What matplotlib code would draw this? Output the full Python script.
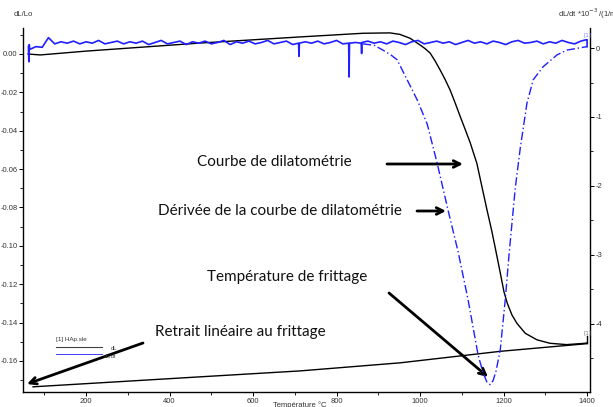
import matplotlib
matplotlib.use('Agg')
import matplotlib.pyplot as plt
from matplotlib.ticker import MultipleLocator, FixedLocator
from matplotlib.lines import Line2D

plt.rcParams['axes.unicode_minus'] = False

# ---------------------------------------------------------------------------
# Data
# ---------------------------------------------------------------------------
# dL/Lo, heating branch (T in degC)
HEAT_T = [61, 90, 200, 473, 713, 863, 928, 952, 976, 1000, 1012, 1024, 1036,
          1048, 1060, 1072, 1084, 1096, 1108, 1120, 1136, 1148, 1160, 1172,
          1180, 1192, 1201, 1209, 1220, 1232, 1252, 1280, 1311, 1351, 1395,
          1400]
HEAT_DL = [0.0, -0.0005, 0.0015, 0.0057, 0.0089, 0.0108, 0.0110, 0.0102,
           0.0082, 0.0047, 0.0028, 0.0005, -0.0036, -0.0083, -0.0133,
           -0.0188, -0.0255, -0.0325, -0.0393, -0.0462, -0.0570, -0.0690,
           -0.0810, -0.0925, -0.1010, -0.1140, -0.1240, -0.1300, -0.1360,
           -0.1404, -0.1456, -0.1490, -0.1508, -0.1515, -0.1508, -0.1506]
# end marker of the heating branch
HEAT_END_T = [1400, 1400]
HEAT_END_DL = [-0.1506, -0.1470]

# dL/Lo, cooling branch
COOL_T = [1400, 1311, 1192, 952, 713, 473, 73]
COOL_DL = [-0.1510, -0.1527, -0.1550, -0.1610, -0.1652, -0.1683, -0.1735]

# dL/dt (*10^-3), flat noisy trace
NOISE_T = [62, 63, 64, 65, 80, 95, 110, 125, 140, 155, 170, 185, 200, 215,
           230, 245, 260, 275, 290, 305, 320, 335, 350, 365, 380, 395, 410,
           425, 440, 455, 470, 485, 500, 515, 530, 545, 560, 575, 590, 605,
           620, 635, 650, 665, 680, 695, 709, 710, 711, 725, 740, 755, 770,
           785, 800, 815, 829, 830, 831, 845, 859, 860, 861, 875, 890, 905,
           920, 935, 950, 965, 980, 995, 1010, 1025, 1040, 1055, 1070, 1085,
           1100, 1115, 1130, 1145, 1160, 1175, 1190, 1205, 1220, 1235, 1250,
           1265, 1280, 1295, 1310, 1325, 1340, 1355, 1370, 1385, 1398, 1400,
           1400]
NOISE_V = [0.02, -0.20, 0.05, -0.02, 0.02, 0.01, 0.15, 0.06, 0.09, 0.07, 0.10,
           0.06, 0.09, 0.07, 0.11, 0.06, 0.08, 0.10, 0.06, 0.09, 0.07, 0.10,
           0.05, 0.08, 0.11, 0.06, 0.08, 0.10, 0.05, 0.09, 0.07, 0.10, 0.06,
           0.08, 0.11, 0.05, 0.09, 0.07, 0.10, 0.06, 0.08, 0.11, 0.06, 0.08,
           0.10, 0.05, 0.07, -0.12, 0.07, 0.09, 0.07, 0.10, 0.06, 0.08, 0.11,
           0.06, 0.07, -0.42, 0.07, 0.08, 0.07, -0.08, 0.08, 0.10, 0.07, 0.09,
           0.06, 0.10, 0.08, 0.05, 0.09, 0.11, 0.06, 0.08, 0.10, 0.07, 0.09,
           0.05, 0.08, 0.11, 0.07, 0.09, 0.06, 0.10, 0.08, 0.05, 0.09, 0.11,
           0.07, 0.08, 0.10, 0.06, 0.09, 0.07, 0.11, 0.08, 0.06, 0.10, 0.12,
           0.12, 0.02]

# dL/dt (*10^-3), sintering peak (dash-dot)
PEAK_T = [863, 890, 911, 930, 945, 969, 993, 1017, 1041, 1067, 1091, 1115,
          1139, 1151, 1160, 1168, 1175, 1182, 1192, 1204, 1213, 1228, 1240,
          1256, 1271, 1295, 1328, 1352, 1390, 1400]
PEAK_V = [0.06, 0.04, -0.03, -0.10, -0.17, -0.46, -0.75, -1.10, -1.67,
          -2.35, -2.95, -3.65, -4.45, -4.71, -4.84, -4.88, -4.82, -4.68,
          -4.38, -3.65, -3.00, -2.03, -1.45, -0.80, -0.46, -0.27, -0.10,
          -0.03, 0.01, 0.02]

X_TICKS = [200, 400, 600, 800, 1000, 1200, 1400]
Y_TICKS = [0.00, -0.02, -0.04, -0.06, -0.08, -0.10, -0.12, -0.14, -0.16]
Y2_TICKS = [0, -1, -2, -3, -4]

ANNOTATIONS = [
    # text, text left/center (px), arrow start (px), arrow tip (px)
    ('Courbe de dilatométrie', (197, 162), (387, 164), (463, 164)),
    ('Dérivée de la courbe de dilatométrie', (158, 211), (417, 211), (446, 211)),
    ('Température de frittage', (207, 277), (389, 293), (488, 377)),
    ('Retrait linéaire au frittage', (155, 332), (143, 343), (27, 384)),
]

W, H = 613, 407
BLUE = '#1f1fff'
TICK_FAMILY = 'Liberation Sans'
GREY = '#333333'


def px(x, y):
    """Reference image pixel (top-left origin) -> figure fraction."""
    return x / W, 1 - y / H


def main():
    fig = plt.figure(figsize=(W / 100, H / 100), dpi=100)
    x0, y0 = px(23, 392)
    x1, y1 = px(590, 28)
    ax = fig.add_axes([x0, y0, x1 - x0, y1 - y0])
    ax2 = ax.twinx()

    ax.plot(HEAT_T, HEAT_DL, color='black', lw=1.0)
    ax.plot(HEAT_END_T, HEAT_END_DL, color='black', lw=1.0)
    ax.plot(COOL_T, COOL_DL, color='black', lw=1.0)

    ax2.plot(NOISE_T, NOISE_V, color=BLUE, lw=1.2)
    ax2.plot(PEAK_T, PEAK_V, color=BLUE, lw=1.0, ls=(0, (6, 2, 1, 2)))

    ax.set_xlim(49, 1407)
    ax.set_ylim(-0.1762, 0.01355)
    ax2.set_ylim(-4.986, 0.29)

    ax.xaxis.set_major_locator(FixedLocator(X_TICKS))
    ax.xaxis.set_minor_locator(MultipleLocator(100))
    ax.yaxis.set_major_locator(FixedLocator(Y_TICKS))
    ax.yaxis.set_minor_locator(MultipleLocator(0.01))
    ax.set_yticklabels([f'{v:.2f}' for v in Y_TICKS])
    ax2.yaxis.set_major_locator(FixedLocator(Y2_TICKS))
    ax2.yaxis.set_minor_locator(MultipleLocator(0.5))
    ax2.set_yticklabels([f'{v:d}' for v in Y2_TICKS])

    for a in (ax, ax2):
        a.spines['top'].set_visible(False)
        for s in a.spines.values():
            s.set_linewidth(1.0)
        a.tick_params(which='major', length=3, width=0.7, pad=1.0)
        a.tick_params(which='minor', length=2, width=0.6)
        for lab in a.get_xticklabels() + a.get_yticklabels():
            lab.set_family(TICK_FAMILY)
            lab.set_fontsize(5.5)
            lab.set_color(GREY)
    ax.spines['right'].set_visible(False)
    ax2.spines['left'].set_visible(False)
    ax2.spines['bottom'].set_visible(False)

    # axis titles
    fig.text(*px(14, 14), 'dL/Lo', fontsize=5.5, family=TICK_FAMILY,
             color=GREY, va='center')
    fig.text(*px(558, 14), r'dL/dt *10$^{-3}$ /(1/min)', fontsize=5.5,
             family=TICK_FAMILY, color=GREY, va='center')
    fig.text(*px(300, 401), 'Température °C', fontsize=5.5,
             family=TICK_FAMILY, color=GREY, ha='center', va='top')

    # end-of-curve markers
    fig.text(*px(583, 35), '[1]', fontsize=4, color='#8080ff', va='center')
    fig.text(*px(583, 333), '[1]', fontsize=4, color='#777777', va='center')

    # legend box
    fig.text(*px(56, 339), '[1] HAp.sle', fontsize=4.5,
             family=TICK_FAMILY, color=GREY, va='center')
    fig.add_artist(Line2D([56 / W, 102 / W], [1 - 347 / H] * 2,
                          color='#444444', lw=0.8))
    fig.add_artist(Line2D([56 / W, 102 / W], [1 - 354 / H] * 2,
                          color=BLUE, lw=0.6))
    fig.text(*px(111, 348), 'dL', fontsize=4, family=TICK_FAMILY,
             color=GREY, va='center')
    fig.text(*px(104, 356), 'dL/dt', fontsize=4, family=TICK_FAMILY,
             color=GREY, va='center')

    for text, tpos, start, tip in ANNOTATIONS:
        fig.text(*px(*tpos), text, fontsize=11, family='Lato',
                 color='#111111', va='center')
        ax.annotate('', xy=px(*tip), xycoords='figure fraction',
                    xytext=px(*start), textcoords='figure fraction',
                    arrowprops=dict(arrowstyle='->', color='black', lw=2.0,
                                    mutation_scale=12, shrinkA=0, shrinkB=0),
                    annotation_clip=False)

    fig.savefig('out.png', dpi=100)
    plt.close(fig)


if __name__ == '__main__':
    main()
